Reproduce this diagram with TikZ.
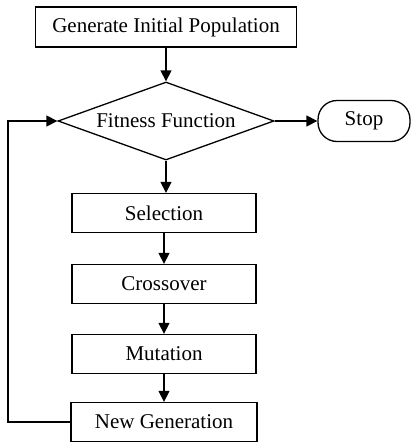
\documentclass[tikz,border=0pt]{standalone}
\usepackage{fontspec}
\setmainfont{Liberation Serif}
\usetikzlibrary{shapes.geometric,arrows.meta}
\tikzset{
  procbox/.style={draw, line width=1.3pt, minimum width=184pt, minimum height=39pt, inner sep=0pt},
  flow/.style={line width=1.3pt, -{Triangle[length=11pt,width=11pt]}},
}
\begin{document}
\begin{tikzpicture}[x=1pt,y=-1pt]
  \useasboundingbox (0,0) rectangle (413,442);
  {\fontsize{21}{23}\selectfont

  % Drawing start box
  \node [procbox, minimum width=261pt, minimum height=40pt] (init) at (166,27) {Generate Initial Population};

  % Drawing fitness test
  \node [draw, diamond, aspect=2.77, line width=1.3pt, minimum width=216pt, minimum height=78pt, inner sep=0pt] (fit) at (166,121) {Fitness Function};

  % Drawing stop terminal
  \node [draw, line width=1.3pt, rounded corners=19pt, minimum width=92pt, minimum height=41pt] (stop) at (364,121) {Stop};

  % Drawing GA steps
  \node [procbox] (sel) at (164,213) {Selection};
  \node [procbox] (cross) at (164,284) {Crossover};
  \node [procbox] (mut) at (164,354) {Mutation};
  \node [procbox, minimum width=186pt] (newgen) at (164,422) {New Generation};
  \coordinate (loop) at (8,422);

  % Drawing arrows
  \draw [flow] (init) -- (fit);
  \draw [flow] (fit) -- (stop);
  \draw [flow] (fit.south) -- (fit.south |- sel.north);
  \draw [flow] (sel) -- (cross);
  \draw [flow] (cross) -- (mut);
  \draw [flow] (mut) -- (newgen);
  \draw [flow] (newgen.west) -- (loop) |- (fit.west);
  }
\end{tikzpicture}
\end{document}
